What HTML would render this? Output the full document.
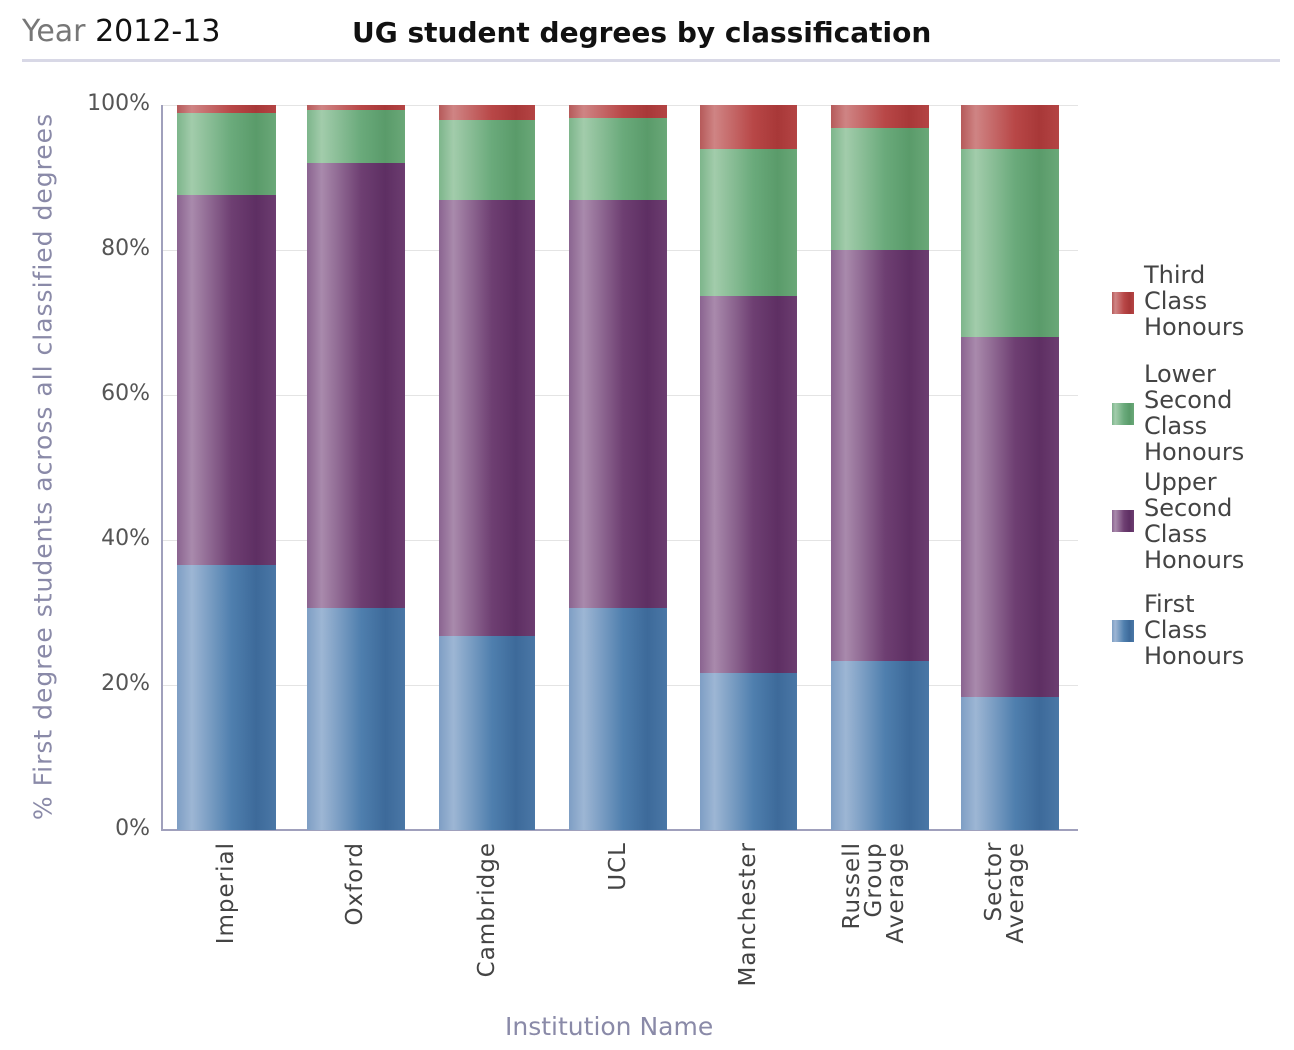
<!DOCTYPE html>
<html><head><meta charset="utf-8"><style>
body{margin:0;background:#fff;width:1294px;height:1050px;position:relative;font-family:"DejaVu Sans","Liberation Sans",sans-serif;overflow:hidden}
.a{position:absolute}
.bar{position:absolute}
.b{background:linear-gradient(90deg,#7e9ec4 0%,#9db6d4 15%,#4f7fae 55%,#3d6a9a 80%,#4a77a6 100%)}
.p{background:linear-gradient(90deg,#8a6490 0%,#a98aac 15%,#6e3f72 55%,#5e2f63 80%,#6c3d70 100%)}
.g{background:linear-gradient(90deg,#7db58b 0%,#a2ccab 15%,#6aaa7b 55%,#5a9b6a 80%,#6aa878 100%)}
.r{background:linear-gradient(90deg,#b55a5a 0%,#cf8484 15%,#b84747 55%,#a83838 80%,#b44444 100%)}
.xl{position:absolute;top:842px;writing-mode:vertical-rl;transform:rotate(180deg);font-size:23px;color:#444;line-height:22px;text-align:right;letter-spacing:1px}
.yt{position:absolute;left:78px;width:72px;text-align:right;font-size:22px;color:#555}
.lg{position:absolute;left:1144px;font-size:24px;color:#444;line-height:26px}
.sw{position:absolute;left:1112px;width:22px;height:22px}
</style></head><body>
<div class="a" style="left:22px;top:14px;font-size:30px;color:#777">Year <span style="color:#111">2012-13</span></div>
<div class="a" style="left:352px;top:16px;font-size:28px;font-weight:bold;color:#111">UG student degrees by classification</div>
<div class="a" style="left:22px;top:59px;width:1258px;height:3px;background:#d8d8e6"></div>
<div class="a" style="left:161px;top:105px;width:917px;height:1px;background:#e4e4e4"></div>
<div class="a" style="left:161px;top:250px;width:917px;height:1px;background:#e4e4e4"></div>
<div class="a" style="left:161px;top:395px;width:917px;height:1px;background:#e4e4e4"></div>
<div class="a" style="left:161px;top:540px;width:917px;height:1px;background:#e4e4e4"></div>
<div class="a" style="left:161px;top:685px;width:917px;height:1px;background:#e4e4e4"></div>
<div class="a" style="left:161px;top:105px;width:2px;height:726px;background:#a0a0bc"></div>
<div class="a" style="left:161px;top:829px;width:917px;height:2px;background:#a0a0bc"></div>
<div class="yt" style="top:91px">100%</div>
<div class="yt" style="top:236px">80%</div>
<div class="yt" style="top:381px">60%</div>
<div class="yt" style="top:526px">40%</div>
<div class="yt" style="top:671px">20%</div>
<div class="yt" style="top:816px">0%</div>
<div class="a" style="left:-337px;top:452px;width:760px;text-align:center;white-space:nowrap;transform:rotate(-90deg);font-size:25px;letter-spacing:1px;color:#8a8aa8">% First degree students across all classified degrees</div>
<div class="a" style="left:505px;top:1012px;font-size:25px;color:#8a8aa8">Institution Name</div>

<div class="bar r" style="left:177px;width:99px;top:105px;height:8px"></div>
<div class="bar g" style="left:177px;width:99px;top:113px;height:82px"></div>
<div class="bar p" style="left:177px;width:99px;top:195px;height:370px"></div>
<div class="bar b" style="left:177px;width:99px;top:565px;height:265px"></div>

<div class="bar r" style="left:307px;width:98px;top:105px;height:5px"></div>
<div class="bar g" style="left:307px;width:98px;top:110px;height:53px"></div>
<div class="bar p" style="left:307px;width:98px;top:163px;height:445px"></div>
<div class="bar b" style="left:307px;width:98px;top:608px;height:222px"></div>

<div class="bar r" style="left:439px;width:96px;top:105px;height:15px"></div>
<div class="bar g" style="left:439px;width:96px;top:120px;height:80px"></div>
<div class="bar p" style="left:439px;width:96px;top:200px;height:436px"></div>
<div class="bar b" style="left:439px;width:96px;top:636px;height:194px"></div>

<div class="bar r" style="left:569px;width:98px;top:105px;height:13px"></div>
<div class="bar g" style="left:569px;width:98px;top:118px;height:82px"></div>
<div class="bar p" style="left:569px;width:98px;top:200px;height:408px"></div>
<div class="bar b" style="left:569px;width:98px;top:608px;height:222px"></div>

<div class="bar r" style="left:700px;width:97px;top:105px;height:44px"></div>
<div class="bar g" style="left:700px;width:97px;top:149px;height:147px"></div>
<div class="bar p" style="left:700px;width:97px;top:296px;height:377px"></div>
<div class="bar b" style="left:700px;width:97px;top:673px;height:157px"></div>

<div class="bar r" style="left:831px;width:98px;top:105px;height:23px"></div>
<div class="bar g" style="left:831px;width:98px;top:128px;height:122px"></div>
<div class="bar p" style="left:831px;width:98px;top:250px;height:411px"></div>
<div class="bar b" style="left:831px;width:98px;top:661px;height:169px"></div>

<div class="bar r" style="left:961px;width:98px;top:105px;height:44px"></div>
<div class="bar g" style="left:961px;width:98px;top:149px;height:188px"></div>
<div class="bar p" style="left:961px;width:98px;top:337px;height:360px"></div>
<div class="bar b" style="left:961px;width:98px;top:697px;height:133px"></div>

<div class="xl" style="left:215px">Imperial</div>
<div class="xl" style="left:344px">Oxford</div>
<div class="xl" style="left:476px">Cambridge</div>
<div class="xl" style="left:607px">UCL</div>
<div class="xl" style="left:737px">Manchester</div>
<div class="xl" style="left:841px">Russell<br>Group<br>Average</div>
<div class="xl" style="left:983px">Sector<br>Average</div>

<div class="sw r" style="top:292px"></div>
<div class="lg" style="top:262px">Third<br>Class<br>Honours</div>
<div class="sw g" style="top:403px"></div>
<div class="lg" style="top:361px">Lower<br>Second<br>Class<br>Honours</div>
<div class="sw p" style="top:510px"></div>
<div class="lg" style="top:469px">Upper<br>Second<br>Class<br>Honours</div>
<div class="sw b" style="top:620px"></div>
<div class="lg" style="top:591px">First<br>Class<br>Honours</div>
</body></html>
